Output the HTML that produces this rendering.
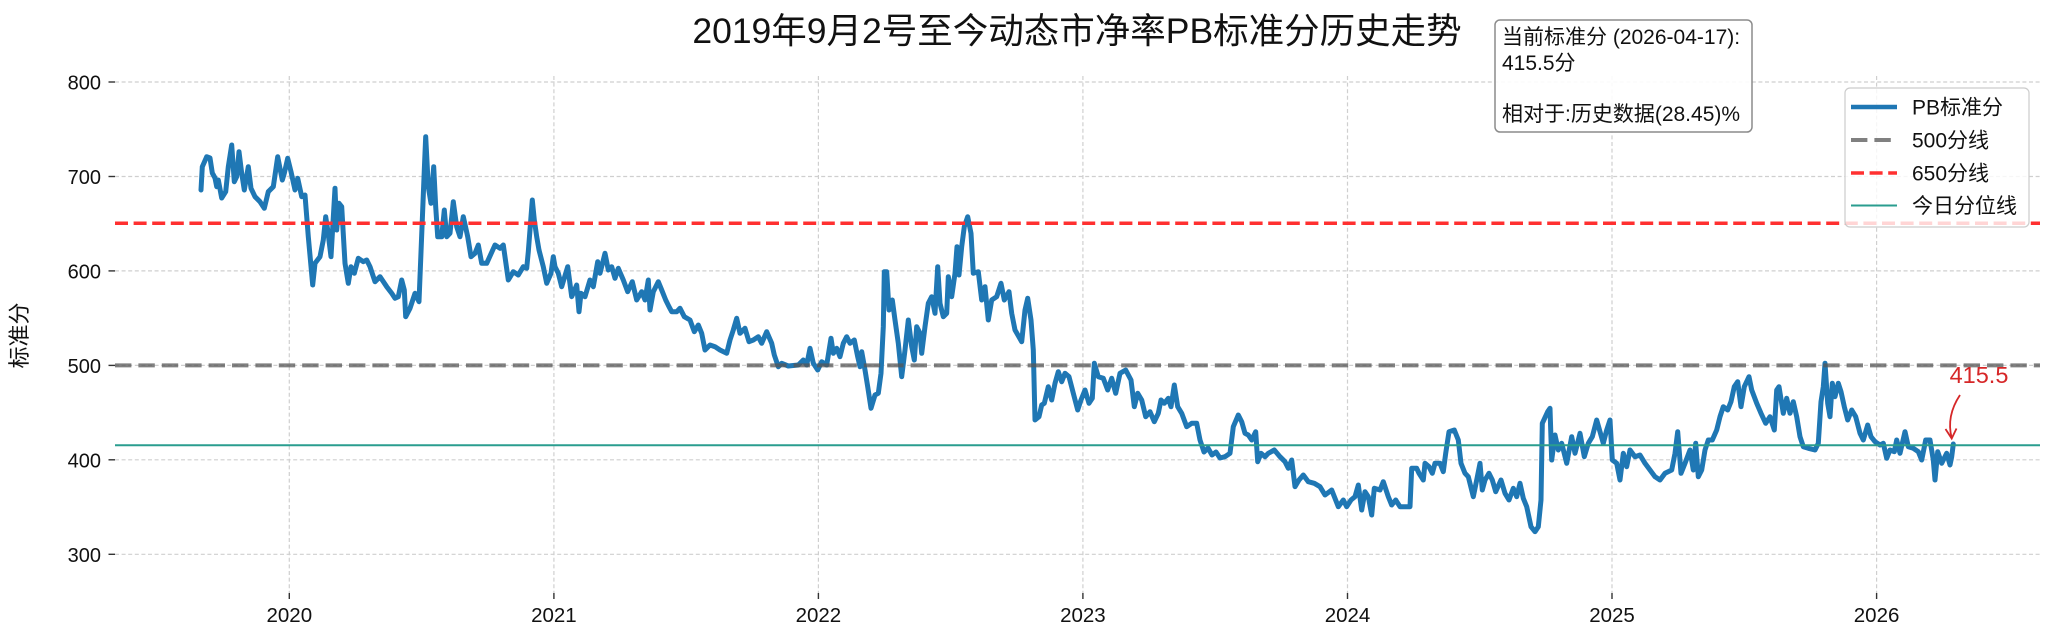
<!DOCTYPE html>
<html>
<head>
<meta charset="utf-8">
<style>
html,body{margin:0;padding:0;background:#fff;width:2054px;height:640px;overflow:hidden;}
svg{display:block;}
text{font-family:"Liberation Sans","Noto Sans CJK SC",sans-serif;}
</style>
</head>
<body>
<svg width="2054" height="640" viewBox="0 0 2054 640" xmlns="http://www.w3.org/2000/svg">
<rect x="0" y="0" width="2054" height="640" fill="#fff"/>

<!-- grid -->
<g stroke="#cfcfcf" stroke-width="1.2" stroke-dasharray="4 2.6" fill="none">
  <line x1="115" y1="82" x2="2040" y2="82"/>
  <line x1="115" y1="176.5" x2="2040" y2="176.5"/>
  <line x1="115" y1="270.9" x2="2040" y2="270.9"/>
  <line x1="115" y1="365.4" x2="2040" y2="365.4"/>
  <line x1="115" y1="459.8" x2="2040" y2="459.8"/>
  <line x1="115" y1="554.3" x2="2040" y2="554.3"/>
  <line x1="289.3" y1="76" x2="289.3" y2="593"/>
  <line x1="553.9" y1="76" x2="553.9" y2="593"/>
  <line x1="818.4" y1="76" x2="818.4" y2="593"/>
  <line x1="1082.9" y1="76" x2="1082.9" y2="593"/>
  <line x1="1347.5" y1="76" x2="1347.5" y2="593"/>
  <line x1="1612" y1="76" x2="1612" y2="593"/>
  <line x1="1876.6" y1="76" x2="1876.6" y2="593"/>
</g>

<!-- ticks -->
<g stroke="#333" stroke-width="1.4">
  <line x1="108.5" y1="82" x2="115" y2="82"/>
  <line x1="108.5" y1="176.5" x2="115" y2="176.5"/>
  <line x1="108.5" y1="270.9" x2="115" y2="270.9"/>
  <line x1="108.5" y1="365.4" x2="115" y2="365.4"/>
  <line x1="108.5" y1="459.8" x2="115" y2="459.8"/>
  <line x1="108.5" y1="554.3" x2="115" y2="554.3"/>
  <line x1="289.3" y1="593" x2="289.3" y2="599"/>
  <line x1="553.9" y1="593" x2="553.9" y2="599"/>
  <line x1="818.4" y1="593" x2="818.4" y2="599"/>
  <line x1="1082.9" y1="593" x2="1082.9" y2="599"/>
  <line x1="1347.5" y1="593" x2="1347.5" y2="599"/>
  <line x1="1612" y1="593" x2="1612" y2="599"/>
  <line x1="1876.6" y1="593" x2="1876.6" y2="599"/>
</g>

<!-- tick labels -->
<g font-size="20" fill="#111" text-anchor="end">
  <text x="101" y="89.5">800</text>
  <text x="101" y="184">700</text>
  <text x="101" y="278.4">600</text>
  <text x="101" y="372.9">500</text>
  <text x="101" y="467.3">400</text>
  <text x="101" y="561.8">300</text>
</g>
<g font-size="20.5" fill="#111" text-anchor="middle">
  <text x="289.3" y="622">2020</text>
  <text x="553.9" y="622">2021</text>
  <text x="818.4" y="622">2022</text>
  <text x="1082.9" y="622">2023</text>
  <text x="1347.5" y="622">2024</text>
  <text x="1612" y="622">2025</text>
  <text x="1876.6" y="622">2026</text>
</g>

<!-- y label -->
<text transform="translate(27,335.5) rotate(-90)" font-size="22" fill="#111" text-anchor="middle">标准分</text>

<!-- title -->
<text x="1077" y="43" font-size="35.5" fill="#111" text-anchor="middle">2019年9月2号至今动态市净率PB标准分历史走势</text>

<!-- series -->
<polyline fill="none" stroke="#1f77b4" stroke-width="5" stroke-linejoin="round" stroke-linecap="round" points="
201,190 202.3,166.7 206.7,156.7 210,158 212.3,173 215,178 216.7,186.7 218.3,180 221.7,198 225.7,191.7 228.3,166.7 231.7,145 234.3,181.7 236.7,176.7 239,151.7 241.7,173.3 244.3,190 248.3,166.7 251,188.3 255,196.7 260,201.7 264.3,208.3 268.3,191.7 273.3,186.7 277.7,156.7 280.3,170 282.3,180 284.3,173.3 287.7,158.3 291,171.7 295,190 297.7,178.3 301.7,196.7 305,195 308.3,236.7 312.7,285 315,263.3 320,256.7 323.3,240 325.7,216.7 327.7,230 331,256.7 335,188.3 336.7,230 339,203.3 341.7,206.7 345,263.3 348.3,283.3 351,266.7 354.3,273.3 358.3,258.3 363.3,261.7 366.7,260 370,266.7 375,281.7 380,276.7 386.7,286.7 391.7,293.3 395,298.3 398.3,296.7 401.7,280 404.3,290 405.7,316.7 410,308.3 415,293.3 419,301.7 422.3,220 424.3,170 425.7,136.7 428.3,186.7 431,203.3 433.7,166.7 435.7,206.7 437.7,236.7 441.7,236.7 444.3,210 446.7,236.7 450,233.3 453.3,201.7 456.7,226.7 460,236.7 463.3,216.7 467.7,236.7 471,256.7 475,253.3 478.3,245 481.7,263.3 486.7,263.3 495,245 500,248.3 503.3,245 508.3,280 513.3,271.7 518.3,275 523.3,266.7 526.7,268.3 528.3,251.7 532.3,200 534.3,220 536.7,236.7 539,250 543.3,266.7 546.7,283.3 551,273.3 553.3,256.7
555,266.7 558.3,273.3 561.7,286.7 567.7,266.7 571.7,296.7 576.7,285 579,311.7 581,293.3 585,296.7 590,280 593.3,286.7 597.7,261.7 600,273.3 605,253.3 608.3,270 611.7,266.7 615,278.3 618.3,268.3 623.3,280 627.7,291.7 632.3,281.7 636.7,300 641.7,291.7 645,300 648.3,280 650,310 653.3,291.7 658.3,281.7 661.7,290 665.7,300 669,306.7 671.7,311.7 676.7,311.7 680,308.3 684.3,316.7 690,320 694.3,331.7 698.3,325 701.7,333.3 705,350 710,345 715,346.7 720,350 726.7,353.3 730,340 733.3,330 736.7,318.3 740,333.3 745,328.3 749,341.7 753.3,340 758.3,336.7 761.7,343.3 766.7,331.7 771.7,343.3 774.3,355 778.3,366.7 781.7,363.3 788.3,366 798.3,365 803.3,360 806.7,365 810,348.3 813.3,363.3 817.7,370 821.7,361.7 826.7,365 831,338.3 833.3,353.3 836.7,348.3 840,356.7 843.3,343.3 846.7,336.7 850,343.3 854.3,340 857.7,356.7 860,366.7 861.7,351.7 865,370 867.7,386.7 871,408.3 875,395 878.3,393.3 881,373.3 883.3,326.7 884.3,271.7 886.7,271.7 889,310 892.3,300 895,320 898.3,343.3 901.7,376.7 905,350 908.3,320 911.7,346.7 914.3,360 916.7,326.7 920,333.3 921.7,353.3 925,326.7 928.3,303.3 931.7,296.7 935,313.3 937.7,266.7 940,303.3 943.3,316.7 946.7,313.3 948.3,276.7 951.7,296.7 955,273.3 957,246.7 959,275 961.7,246.7 964.3,226.7 967.7,216.7 971,233.3 973.3,273.3 978.3,271.7 981.7,300 985,286.7 988.3,320 991.7,300 996.7,296.7 1001,283.3 1004.3,300 1009,291.7 1011.7,313.3 1015,330 1021.7,341.7 1025,310 1027.7,298.3 1031,320 1033.3,350 1035,420 1039,416.7 1041.7,405 1044.3,403.3 1048.3,386.7 1051.7,400 1055,383.3 1058.3,371.7 1061.7,381.7 1065,373.3 1069,376.7 1073.3,393.3 1077.7,410 1081,400 1085,390 1089,403.3 1092.3,398.3 1094.3,363.3 1098.3,376.7 1103.3,378.3 1107.7,390 1111.7,378.3 1115.7,393.3 1120,373.3 1125.7,370 1131,380 1134.3,406.7 1137.7,393.3 1141.7,400 1145.7,416.7 1150,411.7 1154.3,421.7 1158.3,413.3 1161,400 1164.3,403.3 1168.3,398.3 1171,406.7 1174.3,385 1177.7,406.7 1181.7,413.3 1186.7,426.7 1191.7,423.3 1196.7,423.3 1200,440 1204,452 1208,448 1212,455 1216,452 1220,458
1225,456.7 1230,453.3 1233.3,426.7 1238.3,415 1241.7,421.7 1245,433.3 1248.3,435 1251.7,440 1255.7,431.7 1257.7,461.7 1261,453.3 1265,456.7 1268.3,453.3 1274.3,450 1280,456.7 1285,461.7 1288.3,468.3 1291.7,460 1295,486.7 1299,480 1303.3,475 1308.3,481.7 1314.3,483.3 1320,486.7 1325,495 1331.7,490 1338.3,506.7 1343.3,500 1346.7,506.7 1351,500 1355,496.7 1358.3,485 1361.7,510 1365,491.7 1368.3,496.7 1371.7,515 1374.3,488.3 1380,490 1383.3,481.7 1388.3,496.7 1391.7,505 1395.7,500 1400,506.7 1405,506.7 1410,506.7 1411.7,468.3 1416.7,468.3 1419,473.3 1423.3,480 1425,463.3 1429,466.7 1432.3,473.3 1435,463.3 1440,463.3 1443.3,471.7 1445.7,453.3 1449,431.7 1454.3,430 1458.3,440 1461,463.3 1465,473.3 1468.3,476.7 1473.3,496.7 1476.7,480 1480,463.3 1482.3,490 1485,480 1489,473.3 1492.3,480 1495.7,491.7 1501,480 1505,493.3 1509,500 1513.3,488.3 1516.7,496.7 1520,483.3 1523.3,498.3 1526.7,506.7 1531,526.7 1535,531.7 1538.3,526.7 1541,500 1542.3,423.3 1547.7,411.7 1550,408.3 1551.7,460 1555,435 1558.3,450 1561.7,443.3 1566.7,463.3 1571.7,436.7 1575,453.3 1580,433.3 1584.3,456.7
1588.3,443.3 1592.3,436.7 1596.7,420 1600,431.7 1603.3,443.3 1606.7,430 1610,420 1612.3,460 1616.7,463.3 1620,480 1623.3,453.3 1626.7,466.7 1630,450 1635,456.7 1640,455 1645,463.3 1650,470 1655,476.7 1660,480 1665,473.3 1671.7,470 1675,453.3 1677.7,431.7 1681,473.3 1685,463.3 1690,450 1693.3,470 1695.7,443.3 1698.3,476.7 1701.7,470 1705,450 1708.3,440 1712.3,440 1716.7,430 1720,416.7 1723.3,406.7 1727.7,410 1731,401.7 1734.3,386.7 1737.7,381.7 1741,406.7 1744.3,386.7 1749,376.7 1751.7,390 1756.7,403.3 1761,413.3 1765.7,423.3 1770,416.7 1774.3,430 1776.7,390 1779,386.7 1783.3,413.3 1786.7,398.3 1790,413.3 1793.3,401.7 1796.7,416.7 1800,436.7 1803.3,446.7 1808.3,448.3 1815,450 1818.3,443.3 1821,401.7 1823.3,386.7 1825,363.3 1827.7,403.3 1830,416.7 1832.3,383.3 1835,396.7 1838.3,383.3 1841,391.7 1844.3,406.7 1847.7,420 1851.7,410 1855.7,416.7 1860,433.3 1863.3,440 1867.7,425 1871,436.7 1875,441.7 1880,445 1883.3,443.3 1886.7,458.3 1890,450 1894.3,451.7 1896.7,440 1900,453.3 1905,431.7 1908.3,446.7 1913.3,448.3 1918.3,451.7 1921.7,460 1925.7,440 1930,440 1933.3,460 1935,480 1937.7,451.7 1941.7,463.3 1946.7,453.3 1950,465 1951.7,456.7 1953.3,444"/>

<!-- reference lines -->
<line x1="115" y1="365.4" x2="2040" y2="365.4" stroke="#555" stroke-opacity="0.75" stroke-width="4" stroke-dasharray="16.4 7"/>
<line x1="115" y1="223.2" x2="2040" y2="223.2" stroke="#ff3030" stroke-width="3.5" stroke-dasharray="13 5.6"/>
<line x1="115" y1="445.2" x2="2040" y2="445.2" stroke="#2a9d8f" stroke-width="2"/>

<!-- annotation -->
<text x="1979" y="383" font-size="23.5" fill="#d62728" text-anchor="middle">415.5</text>
<path d="M1960,395 Q1946,416 1951.7,438" fill="none" stroke="#d62728" stroke-width="1.8"/>
<path d="M1945.5,429 L1951.7,438.5 L1956.5,428.5" fill="none" stroke="#d62728" stroke-width="1.8" stroke-linejoin="miter"/>

<!-- info box -->
<rect x="1495" y="20" width="257" height="112" rx="5" ry="5" fill="#fff" fill-opacity="0.9" stroke="#8c8c8c" stroke-width="1.5"/>
<g font-size="21" fill="#111">
  <text x="1502" y="44">当前标准分 (2026-04-17):</text>
  <text x="1502" y="70">415.5分</text>
  <text x="1502" y="121">相对于:历史数据(28.45)%</text>
</g>

<!-- legend -->
<rect x="1845" y="88" width="184" height="139" rx="5" ry="5" fill="#fff" fill-opacity="0.8" stroke="#cccccc" stroke-width="1.2"/>
<line x1="1851" y1="107" x2="1897" y2="107" stroke="#1f77b4" stroke-width="4.5"/>
<line x1="1851" y1="140" x2="1897" y2="140" stroke="#555" stroke-opacity="0.75" stroke-width="4" stroke-dasharray="16.4 7"/>
<line x1="1851" y1="173" x2="1897" y2="173" stroke="#ff3030" stroke-width="3.5" stroke-dasharray="13 5.6"/>
<line x1="1851" y1="205.5" x2="1897" y2="205.5" stroke="#2a9d8f" stroke-width="2"/>
<g font-size="21" fill="#111">
  <text x="1912" y="114.5">PB标准分</text>
  <text x="1912" y="147.5">500分线</text>
  <text x="1912" y="180.5">650分线</text>
  <text x="1912" y="213">今日分位线</text>
</g>
</svg>
</body>
</html>
